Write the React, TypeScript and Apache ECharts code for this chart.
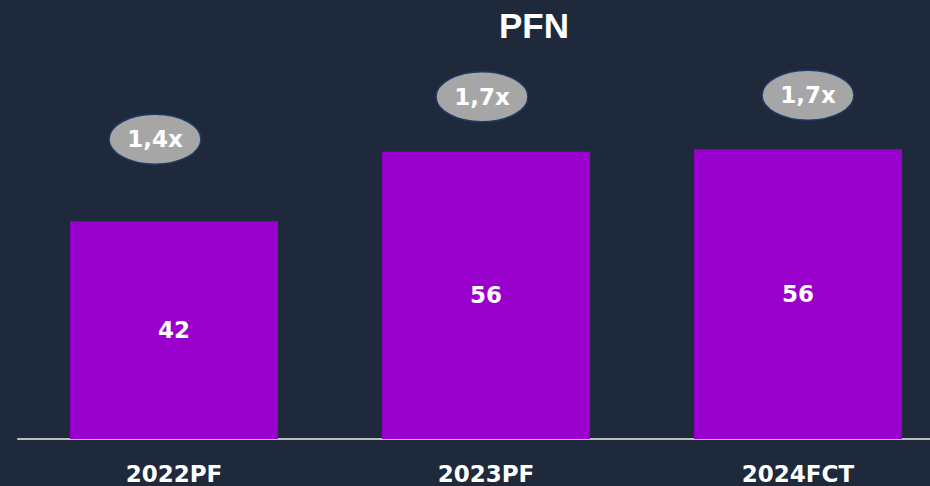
import React, { useEffect, useRef } from "react";
import * as echarts from "echarts";

const categories = ["2022PF", "2023PF", "2024FCT"];
const pfnValues = [42.4, 55.9, 56.4];
const multiples = ["1,4x", "1,7x", "1,7x"];

// badge placement relative to the top-centre of each bar (layout only)
const badgeOffsets = [
  [-19, -82],
  [-4, -55],
  [10, -54],
];

export default function App() {
  const ref = useRef<HTMLDivElement>(null);
  useEffect(() => {
    if (!ref.current) return;
    const chart = echarts.init(ref.current, null, { renderer: "svg" });
    chart.setOption({
      animation: false,
      backgroundColor: "#1e2a3c",
      title: {
        text: "PFN",
        left: 529,
        textAlign: "center",
        top: 3,
        textStyle: {
          color: "#ffffff",
          fontFamily: "Liberation Sans",
          fontWeight: "bold",
          fontSize: 35,
        },
      },
      grid: { left: 18, right: 0, top: 28, bottom: 47, containLabel: false },
      xAxis: {
        type: "category",
        data: categories,
        axisLine: { show: true, lineStyle: { color: "#bfbfbf", width: 2 } },
        axisTick: { show: false },
        axisLabel: {
          color: "#ffffff",
          fontFamily: "DejaVu Sans",
          fontWeight: "bold",
          fontSize: 23,
          margin: 23,
        },
      },
      yAxis: {
        type: "value",
        min: 0,
        max: 80,
        show: false,
        splitLine: { show: false },
      },
      series: [
        {
          type: "bar",
          data: pfnValues,
          barWidth: 208,
          itemStyle: { color: "#9900cc" },
          label: {
            show: true,
            position: "inside",
            color: "#ffffff",
            fontFamily: "DejaVu Sans",
            fontWeight: "bold",
            fontSize: 23,
            formatter: (p: any) => String(Math.round(p.value)),
          },
        },
        {
          type: "custom",
          data: categories.map((_, i) => [i, pfnValues[i]]),
          z: 5,
          clip: false,
          renderItem: (params: any, api: any) => {
            const i = api.value(0);
            const v = api.value(1);
            const p = api.coord([i, v]);
            const off = badgeOffsets[params.dataIndex];
            const cx = p[0] + off[0];
            const cy = p[1] + off[1];
            return {
              type: "group",
              children: [
                {
                  type: "ellipse",
                  shape: { cx, cy, rx: 46, ry: 25 },
                  style: { fill: "#a6a6a6", stroke: "#1f3864", lineWidth: 1.5 },
                },
                {
                  type: "text",
                  x: cx,
                  y: cy,
                  style: {
                    text: multiples[params.dataIndex],
                    fill: "#ffffff",
                    font: 'bold 23px "DejaVu Sans"',
                    align: "center",
                    verticalAlign: "middle",
                    textAlign: "center",
                    textVerticalAlign: "middle",
                  },
                },
              ],
            };
          },
        },
      ],
    });
    return () => chart.dispose();
  }, []);
  return (
    <div
      style={{
        position: "fixed",
        left: 0,
        top: 0,
        width: 930,
        height: 486,
        overflow: "hidden",
        background: "#1e2a3c",
      }}
    >
      <div ref={ref} style={{ width: 954, height: 486 }} />
    </div>
  );
}
